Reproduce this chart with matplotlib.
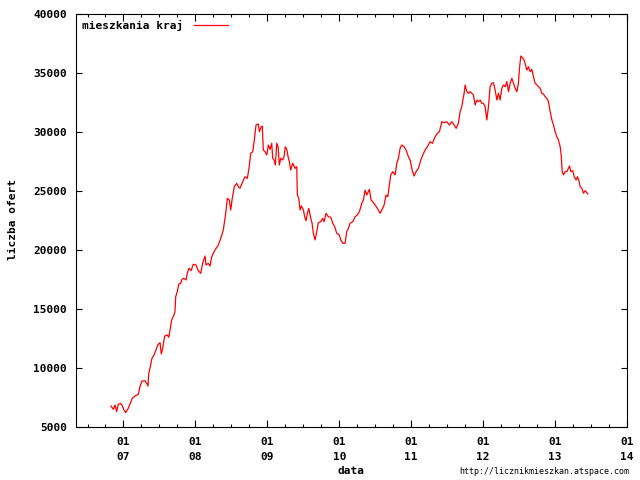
import matplotlib
matplotlib.use('Agg')
import matplotlib.pyplot as plt
from matplotlib.ticker import MultipleLocator, FixedLocator

# data -----------------------------------------------------------------------------------------------------------------

# time as fractional year, number of offers
years = [2006.826, 2006.858, 2006.882, 2006.905, 2006.928, 2006.961, 2006.983, 2007.007, 2007.031, 2007.067,
         2007.090, 2007.122, 2007.160, 2007.206, 2007.229, 2007.257, 2007.299, 2007.323, 2007.341, 2007.350,
         2007.378, 2007.396, 2007.424, 2007.452, 2007.476, 2007.508, 2007.526, 2007.545, 2007.573, 2007.609,
         2007.629, 2007.647, 2007.670, 2007.702, 2007.716, 2007.726, 2007.748, 2007.768, 2007.796, 2007.814,
         2007.841, 2007.869, 2007.887, 2007.911, 2007.939, 2007.971, 2008.008, 2008.040, 2008.074, 2008.102,
         2008.134, 2008.147, 2008.179, 2008.203, 2008.227, 2008.249, 2008.273, 2008.318, 2008.352, 2008.388,
         2008.421, 2008.444, 2008.471, 2008.491, 2008.509, 2008.541, 2008.574, 2008.602, 2008.620, 2008.658,
         2008.690, 2008.722, 2008.745, 2008.769, 2008.797, 2008.819, 2008.843, 2008.875, 2008.889, 2008.912,
         2008.930, 2008.944, 2008.968, 2008.992, 2009.014, 2009.038, 2009.061, 2009.075, 2009.093, 2009.111,
         2009.131, 2009.149, 2009.167, 2009.186, 2009.214, 2009.232, 2009.250, 2009.270, 2009.288, 2009.306,
         2009.325, 2009.353, 2009.385, 2009.409, 2009.417, 2009.437, 2009.455, 2009.473, 2009.501, 2009.524,
         2009.538, 2009.556, 2009.576, 2009.594, 2009.622, 2009.640, 2009.663, 2009.687, 2009.709, 2009.743,
         2009.770, 2009.789, 2009.816, 2009.848, 2009.882, 2009.910, 2009.937, 2009.965, 2010.001, 2010.021,
         2010.049, 2010.081, 2010.104, 2010.127, 2010.150, 2010.188, 2010.220, 2010.252, 2010.280, 2010.313,
         2010.335, 2010.359, 2010.382, 2010.419, 2010.442, 2010.466, 2010.498, 2010.530, 2010.568, 2010.591,
         2010.623, 2010.651, 2010.675, 2010.693, 2010.716, 2010.744, 2010.776, 2010.800, 2010.822, 2010.846,
         2010.869, 2010.901, 2010.929, 2010.961, 2010.985, 2011.013, 2011.040, 2011.068, 2011.100, 2011.134,
         2011.161, 2011.193, 2011.225, 2011.263, 2011.295, 2011.332, 2011.364, 2011.392, 2011.426, 2011.458,
         2011.495, 2011.531, 2011.565, 2011.597, 2011.624, 2011.656, 2011.680, 2011.704, 2011.718, 2011.736,
         2011.750, 2011.773, 2011.796, 2011.819, 2011.843, 2011.865, 2011.889, 2011.912, 2011.935, 2011.958,
         2011.982, 2012.004, 2012.028, 2012.051, 2012.074, 2012.097, 2012.121, 2012.143, 2012.167, 2012.191,
         2012.213, 2012.236, 2012.260, 2012.282, 2012.306, 2012.330, 2012.352, 2012.376, 2012.399, 2012.421,
         2012.445, 2012.469, 2012.491, 2012.505, 2012.524, 2012.552, 2012.570, 2012.588, 2012.608, 2012.630,
         2012.654, 2012.677, 2012.699, 2012.723, 2012.747, 2012.769, 2012.793, 2012.816, 2012.838, 2012.862,
         2012.886, 2012.908, 2012.932, 2012.956, 2012.978, 2013.001, 2013.025, 2013.047, 2013.071, 2013.085,
         2013.099, 2013.117, 2013.140, 2013.164, 2013.186, 2013.200, 2013.220, 2013.247, 2013.266, 2013.293,
         2013.312, 2013.335, 2013.349, 2013.373, 2013.395, 2013.419, 2013.442, 2013.456]

offers = [6780, 6500, 6860, 6300, 6920, 7000, 6800, 6440, 6220, 6590,
          6950, 7430, 7630, 7770, 8420, 8900, 8920, 8700, 8470, 9490,
          10250, 10820, 11100, 11530, 11950, 12150, 11190, 11670, 12710, 12800,
          12600, 13220, 14070, 14490, 14770, 16040, 16470, 17090, 17180, 17520,
          17600, 17460, 18020, 18450, 18250, 18790, 18730, 18250, 18020, 18920,
          19490, 18730, 18870, 18640, 19430, 19720, 20000, 20420, 20990, 21690,
          23110, 24380, 24240, 23390, 24240, 25370, 25650, 25310, 25230, 25790,
          26210, 26070, 26920, 28190, 28330, 29320, 30590, 30680, 30020, 30400,
          30510, 28470, 28330, 28050, 28900, 28530, 29040, 27770, 27630, 27200,
          29040, 28750, 27200, 27770, 27630, 27910, 28750, 28530, 27910, 27490,
          26780, 27350, 26920, 27060, 24660, 24380, 23390, 23730, 23390, 22690,
          22480, 23110, 23530, 22970, 22260, 21410, 20850, 21550, 22310, 22400,
          22690, 22400, 23110, 22820, 22770, 22260, 21970, 21410, 21270, 20850,
          20570, 20570, 21550, 21840, 22260, 22400, 22820, 22970, 23250, 23960,
          24240, 25080, 24660, 25140, 24240, 24090, 23810, 23530, 23110, 23390,
          23810, 24660, 24520, 25370, 26360, 26640, 26360, 27350, 27770, 28620,
          28900, 28750, 28470, 27910, 27630, 26780, 26270, 26640, 26920, 27630,
          28050, 28470, 28750, 29180, 29040, 29600, 29890, 30020, 30870, 30790,
          30870, 30590, 30870, 30590, 30310, 30730, 31720, 32150, 32710, 33280,
          33980, 33420, 33280, 33420, 33280, 33140, 32290, 32710, 32570, 32710,
          32430, 32430, 32150, 31020, 32150, 33840, 34130, 34180, 33560, 32710,
          33280, 32710, 33700, 33980, 33840, 34270, 33420, 34130, 34550, 34130,
          33700, 33420, 34130, 35400, 36440, 36250, 36100, 35680, 35250, 35530,
          35110, 35310, 34690, 34130, 33980, 33840, 33700, 33280, 33220, 32990,
          32850, 32570, 31720, 31020, 30590, 30020, 29600, 29320, 28750, 28050,
          26640, 26360, 26640, 26640, 26920, 27120, 26640, 26720, 26210, 25930,
          26210, 25790, 25370, 25230, 24810, 25030, 24860, 24750]

yearTicks = [2007, 2008, 2009, 2010, 2011, 2012, 2013, 2014]
yearTickLabels = ['01\n07', '01\n08', '01\n09', '01\n10', '01\n11', '01\n12', '01\n13', '01\n14']
yTicks = [5000, 10000, 15000, 20000, 25000, 30000, 35000, 40000]

# figure and panel -----------------------------------------------------------------------------------------------------

figureWidth = 6.4
figureHeight = 4.8
fig = plt.figure(figsize=(figureWidth, figureHeight), dpi=100)

monoBold = dict(family='DejaVu Sans Mono', weight='bold', size=8)

panel = plt.axes([76 / 640, 1 - 427 / 480, 551 / 640, 413 / 480])   # left, bottom, width, height
panel.set_xlim(2006.34, 2014.0)
panel.set_ylim(5000, 40000)

for spine in panel.spines.values():
    spine.set_linewidth(0.8)
    spine.set_color('black')

panel.xaxis.set_major_locator(FixedLocator(yearTicks))
panel.xaxis.set_minor_locator(MultipleLocator(0.25))
panel.set_xticks(yearTicks)
panel.set_xticklabels(yearTickLabels, linespacing=1.55, **monoBold)
panel.set_yticks(yTicks)
panel.set_yticklabels([str(v) for v in yTicks], **monoBold)

panel.tick_params(which='both', direction='in', top=True, right=True, color='black', width=0.8)
panel.tick_params(which='major', length=5)
panel.tick_params(which='minor', length=2.5)
panel.tick_params(axis='y', which='major', pad=6.5, length=4)
panel.tick_params(axis='x', which='major', pad=7.5)

# data -----------------------------------------------------------------------------------------------------------------

panel.plot(years, offers, color='#ff0000', linewidth=0.9, label='mieszkania kraj')

leg = panel.legend(loc='upper left', markerfirst=False, frameon=False, prop=monoBold,
                   handlelength=3.0, handletextpad=1.05, borderaxespad=0.2, borderpad=0.3)

# labels ---------------------------------------------------------------------------------------------------------------

fig.text(351 / 640, 1 - 471 / 480, 'data', ha='center', va='center', **monoBold)
fig.text(13 / 640, 1 - 220 / 480, 'liczba ofert', ha='center', va='center', rotation=90, **monoBold)
fig.text(629 / 640, 1 - 472 / 480, 'http://licznikmieszkan.atspace.com', ha='right', va='center',
         family='DejaVu Sans Mono', size=6)

plt.savefig('out.png', dpi=100)
